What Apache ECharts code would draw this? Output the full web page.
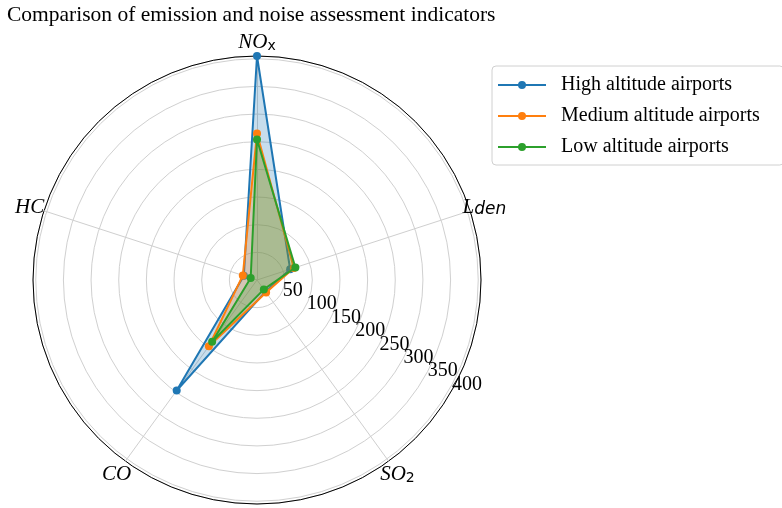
<!DOCTYPE html>
<html>
<head>
<meta charset="utf-8">
<script src="https://cdn.jsdelivr.net/npm/echarts@6/dist/echarts.min.js"></script>
<style>
html,body{margin:0;padding:0;background:#fff;}
#chart{width:782px;height:508px;}
</style>
</head>
<body>
<div id="chart"></div>
<script>
// ---- data ----
var titleText = 'Comparison of emission and noise assessment indicators';
var categories = ['NOx', 'HC', 'CO', 'SO2', 'Lden'];
var seriesNames = ['High altitude airports', 'Medium altitude airports', 'Low altitude airports'];
var highValues = [405, 25, 247, 26, 63];
var mediumValues = [265, 27, 148, 28, 70];
var lowValues = [254, 12, 138, 21, 73];
var radialTicks = [50, 100, 150, 200, 250, 300, 350, 400];
var rMax = 405;

var colors = ['#1f77b4', '#ff7f0e', '#2ca02c'];
var catRich = {
  NOx: '{m|NO}{sx|x}',
  HC: '{m|HC}',
  CO: '{m|CO}',
  SO2: '{m|SO}{sx|2}',
  Lden: '{m|L}{sd|den}'
};
// legend icon: line with a dot in the middle (48 x 8 box)
var lineDotIcon = 'path://M0,3L20.2,3L20.2,5L0,5Z M27.8,3L48,3L48,5L27.8,5Z M20,4A4,4 0 1,1 28,4A4,4 0 1,1 20,4Z';

var chart = echarts.init(document.getElementById('chart'));
var cx = 257, cy = 280, R = 224;
var allSeries = [highValues, mediumValues, lowValues];

var option = {
  backgroundColor: '#fff',
  animation: false,
  title: {
    text: titleText,
    left: 2, top: -1,
    textStyle: {fontFamily: 'Liberation Serif', fontSize: 21.5, fontWeight: 'normal', color: '#000'}
  },
  legend: {
    left: 492, top: 66, orient: 'vertical',
    data: seriesNames.map(function (n) { return {name: n, icon: lineDotIcon}; }),
    itemWidth: 48, itemHeight: 8, itemGap: 9,
    padding: [8, 24, 7, 6],
    borderColor: '#d0d0d0', borderWidth: 1, borderRadius: 4,
    textStyle: {fontFamily: 'Liberation Serif', fontSize: 20, color: '#000', lineHeight: 22, padding: [0, 0, 0, 10]}
  },
  polar: {center: [cx, cy], radius: R},
  angleAxis: {
    type: 'value', min: 0, max: 360, startAngle: -29, clockwise: false,
    axisLine: {show: true, lineStyle: {color: '#000', width: 1}},
    axisTick: {show: false}, axisLabel: {show: false}, splitLine: {show: false}
  },
  radiusAxis: {
    type: 'value', min: 0, max: rMax, interval: 50,
    axisLine: {show: false}, axisTick: {show: false},
    splitLine: {show: true, lineStyle: {color: '#d0d0d0', width: 1}},
    axisLabel: {
      show: true, fontFamily: 'Liberation Serif', fontSize: 20, color: '#000', margin: 3,
      formatter: function (v) { return radialTicks.indexOf(v) >= 0 ? String(v) : ''; }
    }
  },
  radar: {
    center: [cx, cy], radius: R, startAngle: 90, shape: 'circle',
    indicator: categories.map(function (c) { return {name: c, min: 0, max: rMax}; }),
    nameGap: 15,
    splitLine: {show: false}, splitArea: {show: false},
    axisLine: {show: true, lineStyle: {color: '#cfcfcf', width: 1}},
    axisTick: {show: false}, axisLabel: {show: false},
    axisName: {
      color: '#000', align: 'center', verticalAlign: 'middle',
      formatter: function (n) { return catRich[n]; },
      rich: {
        m: {fontFamily: 'Liberation Serif', fontStyle: 'italic', fontSize: 21, color: '#000', lineHeight: 24, verticalAlign: 'bottom'},
        sx: {fontFamily: 'DejaVu Sans', fontSize: 14, color: '#000', lineHeight: 14, verticalAlign: 'bottom'},
        sd: {fontFamily: 'DejaVu Sans', fontStyle: 'italic', fontSize: 17, color: '#000', lineHeight: 14, verticalAlign: 'bottom'}
      }
    }
  },
  series: allSeries.map(function (vals, i) {
    return {
      type: 'radar', name: seriesNames[i], z: 2 + i,
      symbol: 'circle', symbolSize: 8,
      itemStyle: {color: colors[i]},
      lineStyle: {color: colors[i], width: 2},
      areaStyle: {color: colors[i], opacity: 0.25},
      data: [{value: vals, name: seriesNames[i]}]
    };
  })
};
chart.setOption(option);
</script>
</body>
</html>
